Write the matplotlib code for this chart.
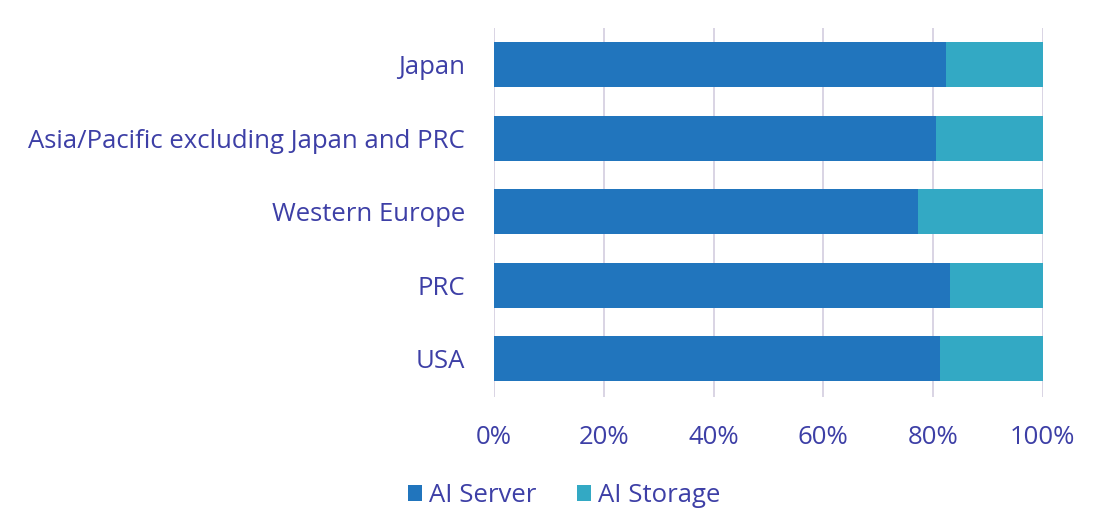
import matplotlib.pyplot as plt
import numpy as np

regions = ['Japan', 'Asia/Pacific excluding Japan and PRC', 'Western Europe', 'PRC', 'USA']
ai_server = [82.3, 80.6, 77.3, 83.1, 81.2]
ai_storage = [100 - v for v in ai_server]
xticks = [0, 20, 40, 60, 80, 100]

color_server = '#2175bd'
color_storage = '#33a9c4'
text_color = '#3d3fa6'

plt.rcParams['font.family'] = ['Open Sans', 'DejaVu Sans']

fig = plt.figure(figsize=(10.93, 5.24), dpi=100)
ax = fig.add_axes([0.452, 0.242, 0.502, 0.705])

y = np.arange(len(regions))[::-1]
ax.barh(y, ai_server, height=0.61, color=color_server, label='AI Server', zorder=2)
ax.barh(y, ai_storage, left=ai_server, height=0.61, color=color_storage, label='AI Storage', zorder=2)

ax.set_xlim(0, 100)
ax.set_ylim(-0.52, 4.5)
ax.set_xticks(xticks)
ax.set_xticklabels([f'{t}%' for t in xticks])
ax.set_yticks(y)
ax.set_yticklabels(regions)
ax.tick_params(length=0, labelsize=18.5, colors=text_color)
ax.tick_params(axis='y', pad=21)
ax.tick_params(axis='x', pad=20)
ax.grid(axis='x', color='#cfc9dc', linewidth=1.1, zorder=0)
for s in ax.spines.values():
    s.set_visible(False)

fig.legend(loc='lower center', bbox_to_anchor=(0.516, -0.014), ncol=2, frameon=False,
           fontsize=18.5, labelcolor=text_color, handlelength=0.55, handleheight=0.55,
           handletextpad=0.25, columnspacing=1.6)

plt.savefig('out.png', dpi=100)
